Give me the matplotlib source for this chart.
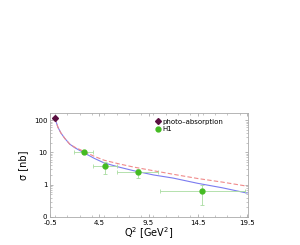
import matplotlib
matplotlib.use("Agg")
import matplotlib.pyplot as plt
from matplotlib.ticker import FixedLocator, LogLocator, NullFormatter, MultipleLocator

# photo-absorption point
photo_q2 = [0.0]
photo_sig = [115.0]

# H1 points
h1_q2 = [3.0, 5.1, 8.4, 14.9]
h1_sig = [10.0, 3.7, 2.4, 0.63]
h1_xlo = [1.1, 1.2, 2.1, 4.2]
h1_xhi = [0.9, 1.2, 2.1, 4.4]
h1_ylo = [1.2, 1.6, 0.8, 0.40]
h1_yhi = [1.3, 1.2, 0.6, 0.37]

# model curves
curve_q2 = [0, 0.3, 0.6, 1, 1.5, 2, 3, 4, 5, 6.5, 8, 10, 12, 14.5, 17, 19.5]
blue_sig = [115, 60, 40, 27, 18, 14, 9.5, 6.5, 4.7, 3.5, 2.7, 2.0, 1.6, 1.1, 0.8, 0.55]
red_sig = [115, 60, 40, 27, 18, 14.5, 10.5, 7.5, 5.7, 4.4, 3.5, 2.7, 2.1, 1.55, 1.2, 0.9]

xticks = [-0.5, 4.5, 9.5, 14.5, 19.5]
yticks = [0.1, 1, 10, 100]
ytick_labels = ["0", "1", "10", "100"]

fig = plt.figure(figsize=(3.0, 2.45), dpi=100)
ax = fig.add_axes([0.1667, 0.1143, 0.66, 0.4245])

ax.plot(curve_q2, blue_sig, color="#7b7bf0", lw=0.8)
ax.plot(curve_q2, red_sig, color="#f08a8a", lw=0.8, ls=(0, (4, 2)))

ph = ax.plot(photo_q2, photo_sig, "D", color="#5a0f40", ms=3, ls="none")[0]
eb = ax.errorbar(h1_q2, h1_sig, xerr=[h1_xlo, h1_xhi], yerr=[h1_ylo, h1_yhi],
                 fmt="o", color="#44bb22", ecolor="#a8dca0", elinewidth=0.6,
                 capsize=1.2, capthick=0.6, ms=3.5)

ax.set_yscale("log")
ax.set_xlim(-0.5, 19.6)
ax.set_ylim(0.1, 165)
ax.set_xticks(xticks)
ax.set_xticklabels([str(t) for t in xticks])
ax.xaxis.set_minor_locator(MultipleLocator(1.25))
ax.yaxis.set_major_locator(FixedLocator(yticks))
ax.set_yticklabels(ytick_labels)
ax.yaxis.set_minor_locator(LogLocator(subs=range(2, 10)))
ax.yaxis.set_minor_formatter(NullFormatter())

ax.tick_params(which="both", direction="in", top=True, right=True,
               color="#999999", labelsize=5, pad=2)
ax.tick_params(which="major", length=2.5, width=0.5)
ax.tick_params(which="minor", length=1.5, width=0.4)
for s in ax.spines.values():
    s.set_color("#aaaaaa")
    s.set_linewidth(0.6)

ax.set_xlabel("Q$^2$ [GeV$^2$]", fontsize=7, labelpad=0)
ax.set_ylabel("σ [nb]", fontsize=7, labelpad=4)

ax.legend([ph, eb[0]], ["photo\u2013absorption", "H1"], loc="upper left",
          bbox_to_anchor=(0.52, 0.97), frameon=False, fontsize=5,
          handlelength=0.6, handletextpad=0.4, labelspacing=0.2, borderaxespad=0)

fig.savefig("out.png", dpi=100)
